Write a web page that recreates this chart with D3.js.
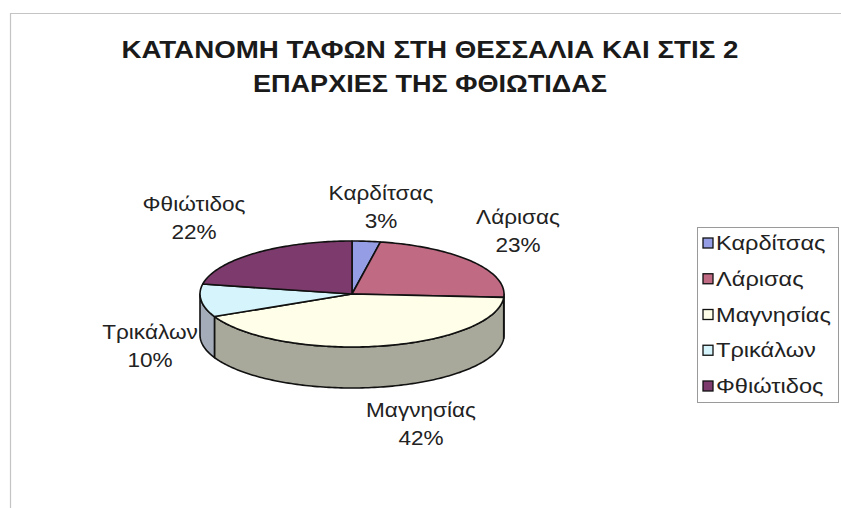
<!DOCTYPE html>
<html><head><meta charset="utf-8">
<script src="https://cdn.jsdelivr.net/npm/d3@7"></script>
<style>body{margin:0;background:#fff}svg{display:block}text{font-family:Arial,"Liberation Sans",sans-serif}</style>
</head><body>
<svg id="c" width="841" height="508"></svg>
<script>
const categories = ["Καρδίτσας","Λάρισας","Μαγνησίας","Τρικάλων","Φθιώτιδος"];
const values = [3, 23, 42, 10, 22];
const topColors = ["#959de4","#c06a84","#fffee8","#d6f4fb","#7c3b6c"];
const sideColors = ["#6f76b0","#8f5064","#a9a99b","#a3acb8","#5a2b4f"];
const titleLines = ["ΚΑΤΑΝΟΜΗ ΤΑΦΩΝ ΣΤΗ ΘΕΣΣΑΛΙΑ ΚΑΙ ΣΤΙΣ 2","ΕΠΑΡΧΙΕΣ ΤΗΣ ΦΘΙΩΤΙΔΑΣ"];

const svg = d3.select("#c");
// frame
svg.append("path").attr("d","M10.5,508 L10.5,13.5 L841,13.5").attr("fill","none").attr("stroke","#c4c4c4").attr("stroke-width",1.2);

// title
const titleY = [58, 92];
const titleW = [617, 354];
titleLines.forEach((t,i)=>{
  svg.append("text").attr("x",430).attr("y",titleY[i]).attr("text-anchor","middle")
    .attr("font-size",23.5).attr("font-weight","bold").attr("fill","#1a1a1a")
    .attr("textLength",titleW[i]).attr("lengthAdjust","spacingAndGlyphs").text(t);
});

const cx = 352, cy = 294, rx = 152, ry = 53, depth = 41;
const total = d3.sum(values);
const pie = d3.pie().sort(null).value(d=>d).startAngle(0).endAngle(2*Math.PI);
const arcs = pie(values);
const px = a => cx + rx*Math.sin(a);
const py = (a, dz=0) => cy - ry*Math.cos(a) + dz;
function arcPts(a0, a1, dz){
  const n = Math.max(2, Math.ceil(Math.abs(a1-a0)/0.02));
  return d3.range(n+1).map(i=>{const a=a0+(a1-a0)*i/n; return [px(a), py(a,dz)];});
}
const line = d3.line();
const g = svg.append("g");

// side walls (front half)
arcs.forEach((d,i)=>{
  const s = Math.max(d.startAngle, Math.PI/2), e = Math.min(d.endAngle, 3*Math.PI/2);
  if (e <= s) return;
  const top = arcPts(s, e, 0), bot = arcPts(e, s, depth);
  g.append("path").attr("d", line(top.concat(bot))+"Z")
    .attr("fill", sideColors[i]).attr("stroke","#111").attr("stroke-width",1.6).attr("stroke-linejoin","round");
});
// top faces
arcs.forEach((d,i)=>{
  const pts = [[cx,cy]].concat(arcPts(d.startAngle, d.endAngle, 0));
  g.append("path").attr("d", line(pts)+"Z")
    .attr("fill", topColors[i]).attr("stroke","#111").attr("stroke-width",1.6).attr("stroke-linejoin","round");
});

// labels
const labelPos = [[381,200],[518,224],[421,417],[150,339],[194,211]];
arcs.forEach((d,i)=>{
  const lg = svg.append("g").attr("transform",`translate(${labelPos[i][0]},${labelPos[i][1]}) scale(1.13,1)`);
  const t = lg.append("text").attr("x",0).attr("y",0)
    .attr("text-anchor","middle").attr("font-size",20).attr("fill","#222");
  t.append("tspan").attr("x",0).text(categories[i]);
  t.append("tspan").attr("x",0).attr("dy",28).text(Math.round(d.data/total*100)+"%");
});

// legend
const lx = 697, ly = 227;
svg.append("rect").attr("x",lx+0.5).attr("y",ly+0.5).attr("width",141).attr("height",175)
  .attr("fill","#fff").attr("stroke","#9a9a9a").attr("stroke-width",1);
const ys = d3.scalePoint().domain(categories).range([243, 386]);
categories.forEach((c,i)=>{
  svg.append("rect").attr("x",703).attr("y",ys(c)-5).attr("width",10).attr("height",10)
    .attr("fill",topColors[i]).attr("stroke","#111").attr("stroke-width",1.3);
  svg.append("g").attr("transform",`translate(716,${ys(c)+7}) scale(1.18,1)`)
    .append("text").attr("x",0).attr("y",0).attr("font-size",20).attr("fill","#222").text(c);
});
</script>
</body></html>
